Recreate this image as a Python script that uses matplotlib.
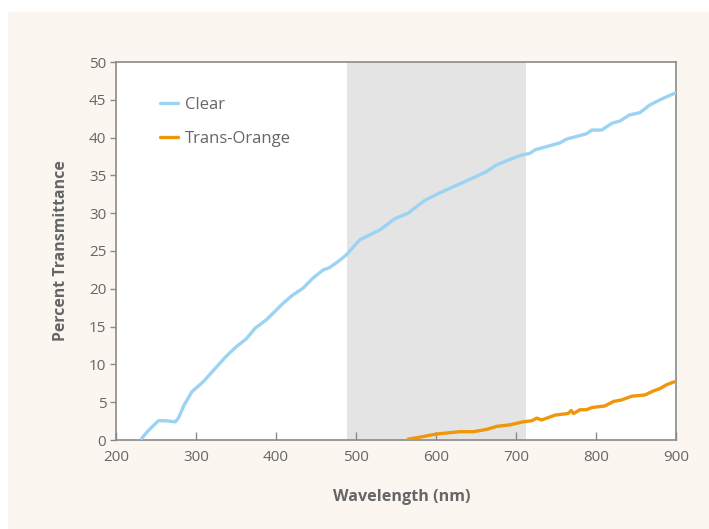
import matplotlib
matplotlib.use("Agg")
import matplotlib.pyplot as plt
from matplotlib.patches import Rectangle

plt.rcParams['font.family'] = ['Open Sans', 'DejaVu Sans']

# Data
clear_nm = [232, 240, 253, 262, 274, 278, 285, 295, 309, 326, 338, 350, 363, 374, 388,
            409, 420, 434, 446, 459, 467, 480, 488, 505, 530, 549, 565, 586, 605, 626,
            647, 663, 676, 697, 707, 717, 724, 755, 763, 788, 795, 807, 820, 830, 842,
            855, 867, 880, 899]
clear_val = [0.2, 1.2, 2.55, 2.55, 2.4, 2.9, 4.6, 6.4, 7.7, 9.7, 11.1, 12.3, 13.4, 14.8, 15.9,
             18.1, 19.1, 20.1, 21.4, 22.5, 22.8, 23.8, 24.5, 26.5, 27.8, 29.3, 30.0, 31.7, 32.7, 33.7,
             34.7, 35.5, 36.4, 37.3, 37.7, 37.9, 38.4, 39.3, 39.8, 40.5, 41.0, 41.0, 41.9, 42.2, 43.0,
             43.3, 44.3, 45.0, 45.9]

orange_nm = [565, 586, 601, 630, 647, 663, 676, 692, 709, 720, 726, 732, 749, 765, 769,
             772, 780, 788, 795, 811, 822, 832, 845, 861, 872, 880, 888, 898]
orange_val = [0.1, 0.5, 0.8, 1.1, 1.1, 1.4, 1.8, 2.0, 2.4, 2.55, 2.9, 2.65, 3.3, 3.5, 3.9,
              3.5, 4.0, 4.0, 4.3, 4.5, 5.1, 5.3, 5.8, 5.95, 6.5, 6.8, 7.3, 7.7]

shade_range = (489, 712)
x_ticks = [200, 300, 400, 500, 600, 700, 800, 900]
y_ticks = [0, 5, 10, 15, 20, 25, 30, 35, 40, 45, 50]

text_col = '#666666'
spine_col = '#8a8a8a'

fig = plt.figure(figsize=(7.09, 5.29), dpi=100)
fig.patch.set_facecolor('white')
bg = Rectangle((8 / 709, 0), 1 - 8 / 709, 1 - 12 / 529,
               transform=fig.transFigure, facecolor='#fbf7f0',
               edgecolor='none', zorder=-10)
fig.add_artist(bg)

ax = fig.add_axes([116 / 709, 1 - 440 / 529, 560 / 709, 378 / 529])
ax.set_zorder(1)
ax.set_facecolor('white')
ax.axvspan(*shade_range, color='#e4e4e4', lw=0, zorder=1)
ax.plot(clear_nm, clear_val, color='#9dd3f2', lw=2.4, label='Clear',
        solid_joinstyle='round', solid_capstyle='round', zorder=3)
ax.plot(orange_nm, orange_val, color='#f0960a', lw=2.4, label='Trans-Orange',
        solid_joinstyle='round', solid_capstyle='round', zorder=3)

ax.set_xlim(200, 900)
ax.set_ylim(0, 50)
ax.set_xticks(x_ticks)
ax.set_yticks(y_ticks)
ax.tick_params(axis='x', direction='in', length=6, width=1, color=spine_col,
               labelcolor=text_col, labelsize=11, pad=7)
ax.tick_params(axis='y', direction='out', length=4, width=1, color=spine_col,
               labelcolor=text_col, labelsize=11, pad=3)
for s in ax.spines.values():
    s.set_color(spine_col)
    s.set_linewidth(1.2)

ax.set_xlabel('Wavelength (nm)', fontsize=11.6, fontweight='bold', color=text_col)
ax.xaxis.set_label_coords(0.511, -0.129)
ax.set_ylabel('Percent Transmittance', fontsize=11.4, fontweight='bold', color=text_col)
ax.yaxis.set_label_coords(-0.0836, 0.5)

leg = ax.legend(loc='upper left', bbox_to_anchor=(0.052, 0.948), frameon=False,
                fontsize=12, handlelength=1.05, handletextpad=0.45, labelspacing=1.1,
                labelcolor=text_col)

fig.savefig('out.png', dpi=100, facecolor=fig.get_facecolor())
